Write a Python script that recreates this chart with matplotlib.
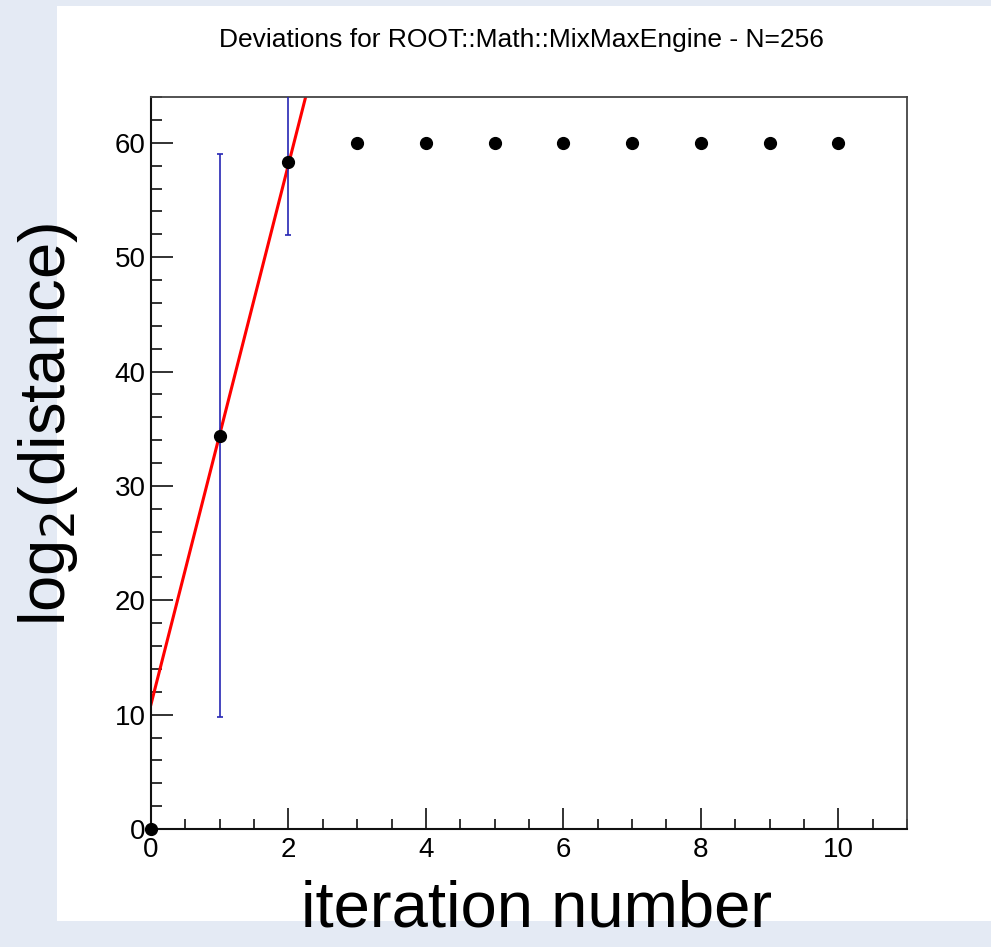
import matplotlib
matplotlib.use("Agg")
import matplotlib.pyplot as plt
from matplotlib.patches import Rectangle
from matplotlib.ticker import MultipleLocator
import numpy as np

plt.rcParams['font.family'] = ['Liberation Sans', 'DejaVu Sans']

# data
iterations = [0, 1, 2, 3, 4, 5, 6, 7, 8, 9, 10]
log2_dist = [0.0, 34.4, 58.3, 60.0, 60.0, 60.0, 60.0, 60.0, 60.0, 60.0, 60.0]
err_x = [1, 2]
err_y = [34.4, 58.3]
err_size = [24.65, 6.4]

# straight-line fit shown in red
fit_intercept = 10.9
fit_slope = 23.6
fit_range = [0.0, 3.0]

title = "Deviations for ROOT::Math::MixMaxEngine - N=256"

W, H = 991, 947
fig = plt.figure(figsize=(W / 100, H / 100), dpi=100)
fig.patch.set_facecolor('#e4eaf4')

# white canvas panel, kept behind the axes
fig.patches.append(Rectangle((57 / W, 1 - 921 / H), 1 - 57 / W, (921 - 6) / H,
                             transform=fig.transFigure, facecolor='white',
                             edgecolor='none', zorder=-5))

ax = fig.add_axes([151 / W, 1 - 829 / H, (907 - 151) / W, (829 - 97) / H])
ax.set_zorder(1)
ax.set_facecolor('white')

fx = np.array(fit_range)
ax.plot(fx, fit_intercept + fit_slope * fx, color='red', lw=2.2, zorder=2)

ax.errorbar(err_x, err_y, yerr=err_size, fmt='none', ecolor='#2626b4',
            elinewidth=1.2, capsize=2.5, capthick=1.2, zorder=3)
ax.plot(iterations, log2_dist, 'o', color='black', ms=8.5, zorder=4,
        clip_on=False)

ax.set_xlim(0, 11)
ax.set_ylim(0, 64)
ax.xaxis.set_major_locator(MultipleLocator(2))
ax.xaxis.set_minor_locator(MultipleLocator(0.5))
ax.yaxis.set_major_locator(MultipleLocator(10))
ax.yaxis.set_minor_locator(MultipleLocator(2))
ax.tick_params(which='both', direction='in', top=False, right=False,
               labelsize=20, width=1.3, color='#222222')
ax.tick_params(axis='x', which='major', length=15, pad=6)
ax.tick_params(axis='x', which='minor', length=7.5)
ax.tick_params(axis='y', which='major', length=16, pad=4)
ax.tick_params(axis='y', which='minor', length=8)

for side in ['left', 'bottom']:
    ax.spines[side].set_linewidth(1.5)
    ax.spines[side].set_color('#111111')
for side in ['top', 'right']:
    ax.spines[side].set_linewidth(1.3)
    ax.spines[side].set_color('#444444')

fig.text(521 / W, 1 - 40 / H, title, ha='center', va='center', fontsize=19)
fig.text(537 / W, 1 - 909 / H, "iteration number", ha='center',
         va='center', fontsize=47)
fig.text(48 / W, 1 - 425 / H, r"log$_{2}$(distance)", ha='center',
         va='center', rotation=90, fontsize=47)

fig.savefig("out.png", dpi=100, facecolor=fig.get_facecolor())
